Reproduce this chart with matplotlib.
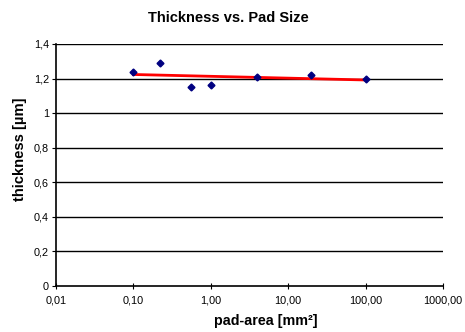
import numpy as np
import matplotlib.pyplot as plt
from matplotlib.ticker import FixedLocator, NullLocator

# data
padArea = [0.1, 0.22, 0.55, 1.0, 4.0, 20.0, 100.0]
thickness = [1.24, 1.29, 1.15, 1.16, 1.21, 1.22, 1.20]

xTicks = [0.01, 0.1, 1, 10, 100, 1000]
xTickLabels = ['0,01', '0,10', '1,00', '10,00', '100,00', '1000,00']
yTicks = [0, 0.2, 0.4, 0.6, 0.8, 1.0, 1.2, 1.4]
yTickLabels = ['0', '0,2', '0,4', '0,6', '0,8', '1', '1,2', '1,4']

plt.rcParams['font.family'] = ['Liberation Sans', 'DejaVu Sans']

W, H = 465, 332
fig = plt.figure(figsize=(W / 100, H / 100), dpi=100)
ax = fig.add_axes([0.1204, 0.1386, 0.8323, 0.7289])

# horizontal gridlines
for yv in yTicks[1:]:
    ax.axhline(yv, color='black', linewidth=1.0, zorder=1)

# logarithmic trendline
coef = np.polyfit(np.log10(padArea), thickness, 1)
xs = np.array([min(padArea), max(padArea)])
ax.plot(xs, coef[0] * np.log10(xs) + coef[1], color='#ff0000', linewidth=2, zorder=2)

ax.plot(padArea, thickness, linestyle='none', marker='D', markersize=3.5,
        color='#000080', zorder=3)

ax.set_xscale('log')
ax.set_xlim(0.01, 1000)
ax.set_ylim(0, 1.4)
ax.xaxis.set_major_locator(FixedLocator(xTicks))
ax.xaxis.set_minor_locator(NullLocator())
ax.set_xticklabels(xTickLabels)
ax.set_yticks(yTicks)
ax.set_yticklabels(yTickLabels)

ax.spines['top'].set_visible(False)
ax.spines['right'].set_visible(False)
ax.spines['left'].set_linewidth(1.2)
ax.spines['bottom'].set_linewidth(1.2)
ax.tick_params(axis='x', direction='inout', length=5, labelsize=7.8, pad=4)
ax.tick_params(axis='y', direction='out', length=3, labelsize=7.8, pad=2)

# title and axis labels placed where the reference has them
fig.text(228 / W, 1 - 18 / H, 'Thickness vs. Pad Size', fontsize=10.5,
         fontweight='bold', ha='center', va='center')
fig.text(266 / W, 1 - 321 / H, 'pad-area [mm²]', fontsize=10.3,
         fontweight='bold', ha='center', va='center')
fig.text(20 / W, 1 - 149 / H, 'thickness [µm]', fontsize=10.6,
         fontweight='bold', ha='center', va='center', rotation=90)

fig.savefig('out.png', dpi=100)
plt.close()
